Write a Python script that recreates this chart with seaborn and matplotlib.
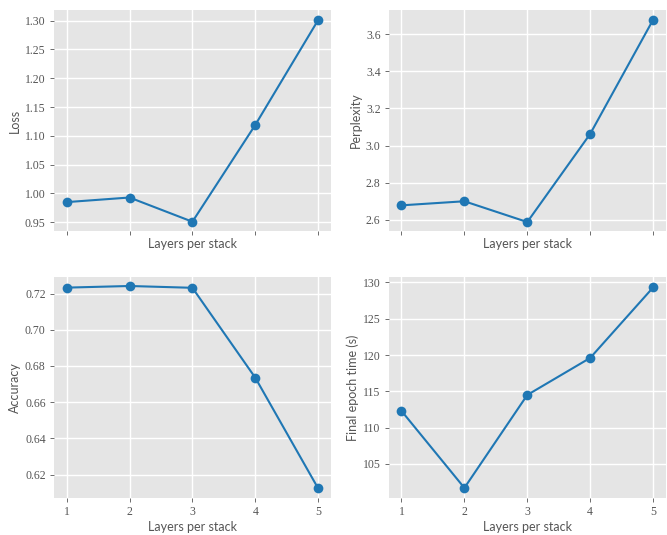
import matplotlib
matplotlib.use("Agg")
import matplotlib.pyplot as plt
import seaborn as sns
import pandas as pd

layers = [1, 2, 3, 4, 5]
loss = [0.985, 0.993, 0.951, 1.119, 1.301]
perplexity = [2.678, 2.700, 2.588, 3.063, 3.678]
accuracy = [0.7233, 0.7242, 0.7232, 0.6735, 0.6123]
epoch_time = [112.3, 101.7, 114.5, 119.6, 129.3]

df = pd.DataFrame({"layers": layers, "Loss": loss, "Perplexity": perplexity,
                   "Accuracy": accuracy, "Final epoch time (s)": epoch_time})

plt.style.use("ggplot")
sns.set_style({"axes.facecolor": "#E5E5E5", "grid.color": "white"})
plt.rcParams["font.family"] = ["Lato", "DejaVu Sans"]

fig, axes = plt.subplots(2, 2, figsize=(6.67, 5.35), dpi=100)
fig.subplots_adjust(left=0.081, right=0.998, top=0.981, bottom=0.069, wspace=0.21, hspace=0.21)

cols = ["Loss", "Perplexity", "Accuracy", "Final epoch time (s)"]
yticks = [[0.95, 1.00, 1.05, 1.10, 1.15, 1.20, 1.25, 1.30],
          [2.6, 2.8, 3.0, 3.2, 3.4, 3.6],
          [0.62, 0.64, 0.66, 0.68, 0.70, 0.72],
          [105, 110, 115, 120, 125, 130]]
ylims = [(0.935, 1.318), (2.54, 3.73), (0.607, 0.729), (100.3, 130.7)]
yfmt = ["{:.2f}", "{:.1f}", "{:.2f}", "{:.0f}"]

for i, (ax, col) in enumerate(zip(axes.flat, cols)):
    sns.lineplot(data=df, x="layers", y=col, ax=ax, marker="o", color="#1f77b4",
                 markersize=7, markeredgewidth=0, linewidth=1.5)
    ax.set_facecolor("#E5E5E5")
    ax.grid(True, color="white", linewidth=1)
    for s in ax.spines.values():
        s.set_visible(False)
    ax.set_xlim(0.8, 5.2)
    ax.set_ylim(*ylims[i])
    ax.set_xticks(layers)
    ax.set_yticks(yticks[i])
    ax.set_yticklabels([yfmt[i].format(v) for v in yticks[i]],
                       family="Liberation Serif", fontsize=8.5)
    ax.set_xticklabels([str(v) for v in layers], family="Liberation Serif", fontsize=8.5)
    ax.tick_params(axis="both", colors="#555555", length=3, width=0.6, pad=3)
    if i < 2:
        ax.tick_params(axis="x", labelbottom=False)
    ax.set_xlabel("Layers per stack", fontsize=9, color="#555555", labelpad=2)
    ax.set_ylabel(col, fontsize=9, color="#555555", labelpad=3)
    ax.xaxis.label.set_visible(True)

fig.savefig("out.png", dpi=100)
